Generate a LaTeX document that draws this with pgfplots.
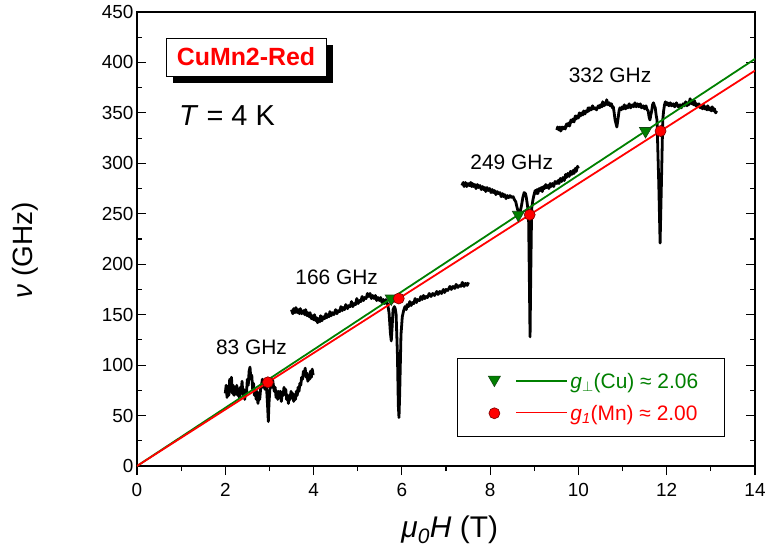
\documentclass[border=0pt]{standalone}
\usepackage{fontspec}
\setmainfont{Liberation Sans}
\usepackage{pgfplots}
\pgfplotsset{compat=1.18}
\definecolor{grn}{RGB}{0,128,0}
\definecolor{rd}{RGB}{255,0,0}
\definecolor{dgrn}{RGB}{20,70,20}
\definecolor{drd}{RGB}{120,0,0}
\begin{document}
\begin{tikzpicture}
\path[use as bounding box] (-137bp,-86bp) rectangle (632bp,466bp);
\begin{axis}[name=ax, at={(0,0)}, anchor=south west, scale only axis,
  width=618bp, height=454bp,
  xmin=0, xmax=14, ymin=0, ymax=450,
  xtick={0,2,...,14}, ytick={0,50,...,450},
  minor x tick num=1, minor y tick num=1,
  tick align=inside, xtick pos=lower, ytick pos=both,
  major tick length=9bp, minor tick length=5bp,
  major x tick style={yshift=-9bp}, minor x tick style={yshift=-5bp},
  axis line style={line width=1.5bp},
  every tick/.style={black, line width=1.2bp},
  ticklabel style={font=\fontsize{19}{19}\selectfont},
  /pgf/number format/assume math mode=true,
  xticklabel shift=14bp,
  every axis x label/.style={at={(axis description cs:0.506,-0.1564)}, anchor=base},
  every axis y label/.style={at={(axis description cs:-0.181,0.475)}, rotate=90, anchor=center},
  xlabel={\fontsize{30}{30}\selectfont\textit{μ}\textsubscript{\textit{0}}\textit{H} (T)},
  ylabel={\fontsize{28}{28}\selectfont\textit{ν} (GHz)},
  legend style={at={(0.5178,0.0639)}, anchor=south west, draw=black, line width=0.8bp,
    font=\fontsize{21}{21}\selectfont, inner xsep=0bp, inner ysep=14bp, row sep=13bp,
    nodes={inner xsep=2bp, inner ysep=1bp}},
  legend cell align=left,
]
% spectra
\addplot[black, line width=2.8bp, line join=round, forget plot] coordinates {
(2.00,72)(2.02,80)(2.04,68)(2.06,78)(2.08,70)(2.10,86)(2.12,74)(2.14,88)(2.16,72)(2.18,80)(2.20,70)(2.22,78)(2.24,72)(2.26,80)(2.28,70)(2.30,76)(2.32,68)(2.34,78)(2.36,74)(2.38,84)(2.40,70)(2.42,76)(2.44,66)(2.46,74)(2.48,72)(2.50,86)(2.52,80)(2.54,94)(2.56,98)(2.58,86)(2.60,90)(2.62,76)(2.64,82)(2.66,70)(2.68,76)(2.70,66)(2.72,74)(2.74,62)(2.76,70)(2.78,66)(2.80,76)(2.82,80)(2.84,86)(2.86,78)(2.88,84)(2.90,76)(2.92,82)(2.94,74)(2.96,58)(2.975,44)(2.99,62)(3.01,76)(3.03,84)(3.05,78)(3.07,86)(3.09,80)(3.11,74)(3.13,78)(3.15,68)(3.17,74)(3.19,66)(3.21,74)(3.23,68)(3.25,74)(3.27,64)(3.29,72)(3.31,70)(3.33,78)(3.35,72)(3.37,76)(3.39,66)(3.41,70)(3.43,62)(3.45,70)(3.47,66)(3.49,74)(3.51,68)(3.53,72)(3.55,64)(3.57,70)(3.59,66)(3.61,74)(3.63,70)(3.65,78)(3.67,74)(3.69,82)(3.71,80)(3.73,88)(3.75,86)(3.77,94)(3.79,90)(3.81,97)(3.83,88)(3.85,92)(3.87,84)(3.89,90)(3.91,86)(3.93,94)(3.95,88)(3.97,96)(3.99,90)};
\addplot[black, line width=2.8bp, line join=round, forget plot] coordinates {
(3.50,155)(3.53,151)(3.55,156)(3.58,152)(3.6,157)(3.63,152)(3.65,155)(3.68,151)(3.7,156)(3.73,151)(3.77,154)(3.8,150)(3.82,155)(3.85,149)(3.87,152)(3.9,148)(3.92,152)(3.95,146)(3.97,149)(4.0,145)(4.02,150)(4.05,144)(4.07,147)(4.09,142)(4.11,146)(4.14,143)(4.16,149)(4.19,144)(4.22,148)(4.25,146)(4.28,151)(4.3,147)(4.33,150)(4.35,148)(4.37,153)(4.4,149)(4.43,152)(4.46,150)(4.5,155)(4.53,151)(4.56,154)(4.59,153)(4.62,158)(4.65,154)(4.67,157)(4.7,155)(4.73,160)(4.77,156)(4.8,159)(4.83,158)(4.86,163)(4.89,158)(4.92,161)(4.95,160)(4.98,166)(5.01,161)(5.04,164)(5.07,163)(5.1,168)(5.13,164)(5.16,167)(5.19,166)(5.22,171)(5.25,168)(5.28,171)(5.31,166)(5.34,169)(5.37,166)(5.4,169)(5.43,164)(5.46,167)(5.49,164)(5.52,167)(5.55,162)(5.58,165)(5.61,161)(5.64,165)(5.68,160)(5.71,152)(5.74,132)(5.76,124)(5.78,138)(5.8,155)(5.83,158)(5.85,156)(5.87,150)(5.9,110)(5.92,60)(5.935,48)(5.95,70)(5.98,130)(6.01,148)(6.04,154)(6.07,158)(6.1,155)(6.12,160)(6.15,158)(6.18,163)(6.21,159)(6.24,162)(6.27,161)(6.3,166)(6.33,162)(6.36,165)(6.4,164)(6.43,168)(6.46,165)(6.49,169)(6.52,166)(6.55,168)(6.58,167)(6.62,171)(6.66,168)(6.7,171)(6.74,169)(6.79,173)(6.82,170)(6.86,173)(6.9,171)(6.94,175)(6.97,172)(7.0,175)(7.04,174)(7.09,178)(7.12,175)(7.16,178)(7.2,176)(7.23,180)(7.27,177)(7.3,179)(7.34,178)(7.37,182)(7.41,178)(7.44,181)(7.48,179)(7.51,182)};
\addplot[black, line width=2.8bp, line join=round, forget plot] coordinates {
(7.36,278)(7.39,281)(7.41,277)(7.44,281)(7.47,277)(7.5,280)(7.53,278)(7.56,281)(7.58,277)(7.6,280)(7.62,277)(7.65,279)(7.68,275)(7.71,279)(7.74,276)(7.77,278)(7.8,274)(7.83,277)(7.85,274)(7.88,276)(7.9,272)(7.93,276)(7.96,273)(7.99,275)(8.02,271)(8.05,274)(8.07,271)(8.1,273)(8.13,269)(8.16,272)(8.19,270)(8.22,271)(8.25,267)(8.28,270)(8.3,267)(8.33,269)(8.36,265)(8.39,268)(8.42,266)(8.45,268)(8.49,266)(8.52,267)(8.55,264)(8.58,262)(8.6,258)(8.63,253)(8.66,251)(8.68,252)(8.71,258)(8.74,266)(8.77,271)(8.8,270)(8.82,266)(8.84,260)(8.87,250)(8.89,180)(8.904,128)(8.92,190)(8.94,255)(8.97,264)(9.0,270)(9.02,273)(9.04,270)(9.06,274)(9.08,270)(9.11,275)(9.13,273)(9.16,276)(9.18,272)(9.21,277)(9.23,275)(9.26,279)(9.28,276)(9.31,278)(9.33,275)(9.36,280)(9.38,277)(9.41,280)(9.44,277)(9.47,282)(9.51,280)(9.54,283)(9.56,280)(9.59,285)(9.62,282)(9.65,286)(9.68,283)(9.71,289)(9.73,286)(9.76,290)(9.79,287)(9.82,292)(9.85,289)(9.88,293)(9.9,290)(9.93,295)(9.95,292)(9.98,297)(10.0,295)};
\addplot[black, line width=2.8bp, line join=round, forget plot] coordinates {
(9.51,333)(9.53,336)(9.56,333)(9.58,336)(9.6,332)(9.63,336)(9.65,334)(9.68,336)(9.7,334)(9.73,339)(9.75,337)(9.78,340)(9.8,337)(9.83,343)(9.85,341)(9.88,344)(9.9,341)(9.93,347)(9.95,344)(9.97,347)(10.0,345)(10.02,350)(10.05,347)(10.07,350)(10.1,348)(10.12,352)(10.15,349)(10.17,352)(10.2,351)(10.22,355)(10.24,352)(10.26,355)(10.29,353)(10.32,357)(10.35,354)(10.38,355)(10.41,353)(10.45,357)(10.48,355)(10.5,358)(10.53,356)(10.55,361)(10.58,357)(10.6,360)(10.62,358)(10.64,363)(10.67,358)(10.7,360)(10.72,357)(10.75,359)(10.77,355)(10.79,356)(10.81,350)(10.83,343)(10.87,336)(10.9,345)(10.92,352)(10.94,355)(10.97,353)(10.99,356)(11.02,354)(11.04,358)(11.07,354)(11.09,357)(11.12,355)(11.15,359)(11.18,355)(11.22,358)(11.25,356)(11.28,360)(11.31,356)(11.34,359)(11.37,356)(11.4,359)(11.43,355)(11.47,357)(11.5,354)(11.53,357)(11.56,353)(11.58,352)(11.6,346)(11.62,343)(11.64,348)(11.66,352)(11.68,358)(11.7,360)(11.72,357)(11.74,355)(11.76,348)(11.78,343)(11.82,280)(11.85,221)(11.88,280)(11.91,343)(11.93,352)(11.95,358)(11.97,361)(12.0,358)(12.02,360)(12.05,357)(12.08,360)(12.11,357)(12.15,359)(12.18,356)(12.22,360)(12.26,356)(12.3,358)(12.33,355)(12.37,359)(12.4,357)(12.43,361)(12.46,357)(12.48,360)(12.5,358)(12.53,364)(12.56,359)(12.58,361)(12.61,358)(12.63,362)(12.66,357)(12.68,359)(12.71,356)(12.73,359)(12.76,355)(12.78,357)(12.81,354)(12.83,358)(12.86,354)(12.88,356)(12.91,353)(12.93,357)(12.96,353)(12.98,355)(13.01,352)(13.03,356)(13.06,352)(13.08,354)(13.11,350)(13.13,352)};
% fit lines
\addplot[grn, line width=1.8bp, forget plot] coordinates {(0,0) (14,403.5)};
\addplot[rd, line width=1.8bp, forget plot] coordinates {(0,0) (14,391.9)};
% resonance points
\addplot[only marks, mark=triangle*, mark size=7bp,
  mark options={rotate=180, fill=grn, draw=dgrn, line width=0.6bp}, forget plot]
  coordinates {(5.76,166)(8.64,249)(11.52,332)};
\addplot[only marks, mark=*, mark size=5.5bp,
  mark options={fill=rd, draw=drd, line width=0.6bp}, forget plot]
  coordinates {(2.965,83)(5.93,166)(8.896,249)(11.86,332)};
% legend
\addlegendimage{legend image code/.code={
  \path[draw=none, fill=none, use as bounding box] (-37bp,-8bp) rectangle (20bp,8bp);
  \draw[draw=none, mark=triangle*, mark size=7bp, mark options={rotate=180, fill=grn, draw=dgrn, line width=0.6bp}] plot coordinates {(0bp,2bp)};
}}
\addlegendentry{\textcolor{grn}{\rule[0.32em]{51bp}{1.6bp}\hspace*{3bp}\textit{g}\textsubscript{$\perp$}(Cu) ≈ 2.06}\rule{24bp}{0pt}}
\addlegendimage{legend image code/.code={
  \path[draw=none, fill=none, use as bounding box] (-37bp,-8bp) rectangle (20bp,8bp);
  \draw[draw=none, mark=*, mark size=5.5bp, mark options={fill=rd, draw=drd, line width=0.6bp}] plot coordinates {(0bp,0bp)};
}}
\addlegendentry{\textcolor{rd}{\rule[0.32em]{51bp}{1.6bp}\hspace*{3bp}\textit{g}\textsubscript{\textit{1}}(Mn) ≈ 2.00}\rule{24bp}{0pt}}
% annotations
\node[font=\fontsize{21}{21}\selectfont] at (axis cs:2.594,117.4) {83 GHz};
\node[font=\fontsize{21}{21}\selectfont] at (axis cs:4.524,186.8) {166 GHz};
\node[font=\fontsize{21}{21}\selectfont] at (axis cs:8.489,301.1) {249 GHz};
\node[font=\fontsize{21}{21}\selectfont] at (axis cs:10.716,387.2) {332 GHz};
\node[font=\fontsize{29}{29}\selectfont] at (axis cs:2.04,347) {\textit{T} = 4 K};
\node[fill=black, minimum width=160bp, minimum height=38bp, inner sep=0pt, xshift=7bp, yshift=-7bp] at (axis cs:2.469,405.4) {};
\node[draw=black, line width=0.8bp, fill=white, minimum width=160bp, minimum height=38bp, inner sep=0pt, text=rd, font=\fontsize{25}{25}\selectfont\bfseries] at (axis cs:2.469,405.4) {CuMn2-Red};
\end{axis}
\end{tikzpicture}
\end{document}
